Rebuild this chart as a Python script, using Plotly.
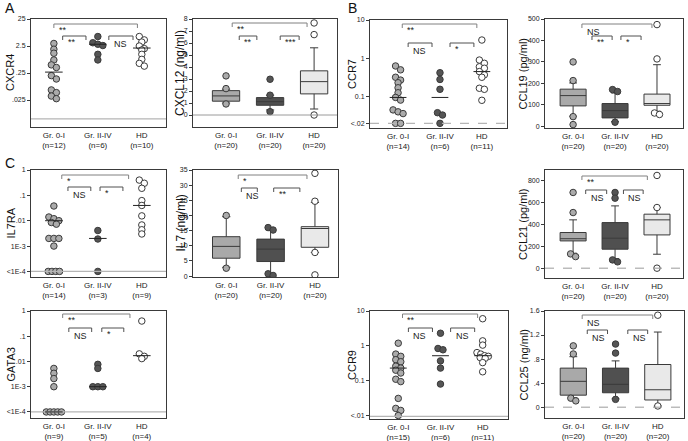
import numpy as np
import plotly.graph_objects as go

W, H = 688, 441

groups = ["Gr. 0-I", "Gr. II-IV", "HD"]

# ---------- dot plots (relative expression, log scale) ----------
cxcr4_n = [12, 6, 10]
cxcr4_g0 = [3.1, 1.9, 1.35, 0.76, 0.5, 0.4, 0.2, 0.15, 0.059, 0.047, 0.035, 0.028]
cxcr4_g2 = [5.6, 3.3, 2.9, 2.6, 1.23, 0.76]
cxcr4_hd = [5.6, 4.2, 3.5, 2.5, 2.0, 1.78, 1.23, 0.8, 0.57, 0.45]
cxcr4_med = [0.27, 2.9, 2.1]
cxcr4_ticks = [25, 2.5, 0.25, 0.025]
cxcr4_ticktext = ["25", "2.5", ".25", ".025"]

ccr7_n = [14, 6, 11]
ccr7_g0 = [0.63, 0.5, 0.32, 0.27, 0.23, 0.17, 0.126, 0.095, 0.081, 0.045, 0.04, 0.036, 0.02, 0.02]
ccr7_g2 = [0.42, 0.28, 0.155, 0.038, 0.033, 0.02]
ccr7_hd = [3.0, 0.9, 0.74, 0.6, 0.55, 0.45, 0.37, 0.32, 0.165, 0.155, 0.08]
ccr7_med = [0.095, 0.095, 0.45]
ccr7_ticks = [10, 1, 0.1, 0.02]
ccr7_ticktext = ["10", "1", "0.1", "<.02"]

il7ra_n = [14, 3, 9]
il7ra_g0 = [0.038, 0.014, 0.012, 0.01, 0.0085, 0.0073, 0.002, 0.002, 0.002, 0.001,
            1e-4, 1e-4, 1e-4, 1e-4]
il7ra_g2 = [0.0041, 0.0019, 1e-4]
il7ra_hd = [0.4, 0.3, 0.19, 0.062, 0.04, 0.0155, 0.0068, 0.0044, 0.003]
il7ra_med = [0.01, 0.002, 0.04]

gata3_n = [9, 5, 4]
gata3_g0 = [0.0053, 0.0034, 0.0021, 0.001, 1e-4, 1e-4, 1e-4, 1e-4, 1e-4]
gata3_g2 = [0.0077, 0.0053, 0.001, 0.001, 0.001]
gata3_hd = [0.4, 0.02, 0.016, 0.013]
gata3_med = [1e-4, 0.001, 0.017]

low_ticks = [1, 0.1, 0.01, 1e-3, 1e-4]
low_ticktext = ["1", ".1", ".01", "1E-3", "<1E-4"]

ccr9_n = [15, 6, 11]
ccr9_g0 = [1.19, 0.58, 0.5, 0.4, 0.35, 0.26, 0.23, 0.2, 0.166, 0.11, 0.094, 0.031, 0.016, 0.014, 0.01]
ccr9_g2 = [2.3, 0.84, 0.77, 0.37, 0.23, 0.08]
ccr9_hd = [6.0, 1.39, 1.05, 0.64, 0.58, 0.52, 0.5, 0.46, 0.44, 0.33, 0.18]
ccr9_med = [0.23, 0.52, 0.52]
ccr9_ticks = [10, 1, 0.1, 0.01]
ccr9_ticktext = ["10", "1", "0.1", "<.01"]

# ---------- box plots (lower whisker, q1, median, q3, upper whisker) ----------
box_n = [20, 20, 20]

cxcl12_stats = [[1.0, 1.15, 1.59, 2.03, 2.15], [0.42, 0.81, 1.11, 1.45, 1.65], [0.5, 1.76, 2.78, 3.68, 5.6]]
cxcl12_out = [[3.26, 2.2, 0.92], [2.98, 1.65, 0.28], [7.67, 6.7, 0.0]]

ccl19_stats = [[47, 95, 143, 173, 202], [22, 39, 73, 106, 155], [70, 98, 106, 150, 287]]
ccl19_out = [[300, 213, 45, 8], [171, 162, 19], [474, 314, 62, 55]]

il7_stats = [[2.9, 5.9, 9.8, 13.0, 19.6], [0.76, 4.8, 8.9, 12.2, 15.2], [7.8, 9.5, 15.7, 16.3, 24.3]]
il7_out = [[20.0, 2.6], [16.0, 15.2, 0.76, 0.2], [33.9, 24.7, 7.8, 0.4]]

ccl21_stats = [[137, 250, 270, 327, 443], [88, 174, 275, 418, 571], [128, 305, 443, 495, 556]]
ccl21_out = [[694, 510, 131, 106], [694, 642, 76, 58], [850, 556, 0]]

ccl25_stats = [[0.16, 0.2, 0.43, 0.65, 0.84], [0.14, 0.24, 0.38, 0.65, 0.77], [0.02, 0.12, 0.29, 0.71, 1.25]]
ccl25_out = [[1.02, 0.885, 0.15, 0.105], [1.05, 0.9, 0.13], [1.53, 0.02]]

# ---------- styling ----------
FONT = "Liberation Sans, Arial, sans-serif"
LINE = "#3a3a3a"
DOT_FILL = ["#ababab", "#555555", "#ffffff"]
BOX_FILL = ["#a9a9a9", "#505050", "#e9e9e9"]
COL_A = [-0.52, 2.55]
COL_B = [-0.75, 2.52]
COL_C = [-0.67, 2.6]
COL_D = [-0.67, 2.62]

fig = go.Figure()
shapes, annots = [], []


def setup_axes(i, box, xr, yr, n, yticks, yticktext):
    l, r, t, b = box
    s = "" if i == 1 else str(i)
    fig.update_layout(**{
        "xaxis" + s: dict(domain=[l / W, r / W], range=xr, anchor="y" + s,
                          tickvals=[0, 1, 2],
                          ticktext=[f"{g}<br>(n={k})" for g, k in zip(groups, n)],
                          showline=True, mirror=True, linecolor=LINE, linewidth=1,
                          ticks="", showgrid=False, zeroline=False, automargin=False,
                          tickfont=dict(size=8, color="#222")),
        "yaxis" + s: dict(domain=[1 - b / H, 1 - t / H], range=yr, anchor="x" + s,
                          tickvals=yticks, ticktext=yticktext,
                          showline=True, mirror=True, linecolor=LINE, linewidth=1,
                          ticks="outside", ticklen=3, tickcolor=LINE, automargin=False,
                          showgrid=False, zeroline=False,
                          tickfont=dict(size=7, color="#222")),
    })
    return "x" + s, "y" + s


def swarm(y, yr, hpx, xr, wpx, d=6.5, step=5):
    # side-by-side offsets for points that would sit on top of each other
    y = np.asarray(y, dtype=float)
    ypx = y / (yr[1] - yr[0]) * hpx
    order = np.argsort(-ypx)
    rows = []
    for idx in order:
        if rows and abs(ypx[rows[-1][0]] - ypx[idx]) < 0.6 * d:
            rows[-1].append(idx)
        else:
            rows.append([idx])
    off = np.zeros(len(y))
    for row in rows:
        k = len(row)
        sp = step if k < 4 else 3.8
        for j, idx in enumerate(row):
            off[idx] = (j - (k - 1) / 2) * sp
    return off / wpx * (xr[1] - xr[0])


def add_markers(xa, ya, gi, xs, ys):
    fig.add_trace(go.Scatter(x=xs, y=ys, mode="markers", xaxis=xa, yaxis=ya,
                             showlegend=False, hoverinfo="skip",
                             marker=dict(size=6.5, color=DOT_FILL[gi],
                                         line=dict(color=LINE, width=1))))


def add_brackets(xa, ya, box, brackets):
    l, r, t, b = box
    h = b - t
    for x0, x1, below, label in brackets:
        yy = 1 - below / h
        tick = 4 / h
        col = "#808080" if below < 10 else "#505050"
        kw = dict(type="line", xref=xa, yref=ya + " domain", line=dict(color=col, width=1))
        shapes.append(dict(kw, x0=x0, x1=x1, y0=yy, y1=yy))
        shapes.append(dict(kw, x0=x0, x1=x0, y0=yy, y1=yy - tick))
        shapes.append(dict(kw, x0=x1, x1=x1, y0=yy, y1=yy - tick))
        annots.append(dict(x=x0, y=yy, xref=xa, yref=ya + " domain", text=label,
                           showarrow=False, xanchor="left", yanchor="top",
                           xshift=3, yshift=1 if label != "NS" else -1,
                           font=dict(size=9, color="#222")))


def ytitle(box, xpx, text, size=11):
    l, r, t, b = box
    annots.append(dict(x=xpx / W, y=1 - (t + b) / 2 / H, xref="paper", yref="paper",
                       text=text, textangle=-90, showarrow=False,
                       xanchor="center", yanchor="middle",
                       font=dict(size=size, color="#111")))


def hline(xa, ya, yv, color="#b5b5b5", dash="solid", width=1.2):
    shapes.append(dict(type="line", xref=xa + " domain", yref=ya, x0=0, x1=1, y0=yv, y1=yv,
                       line=dict(color=color, dash=dash, width=width)))


def dot_panel(i, box, xr, yr, data, med, n, yticks, yticktext, floor, floor_dash,
              title, title_x, brackets):
    l, r, t, b = box
    xa, ya = setup_axes(i, box, xr, yr, n, list(np.log10(yticks)), yticktext)
    hline(xa, ya, floor, dash=floor_dash)
    for gi, vals in enumerate(data):
        y = np.log10(vals)
        dx = swarm(y, yr, b - t, xr, r - l)
        add_markers(xa, ya, gi, gi + dx, y)
        m = np.log10(med[gi])
        shapes.append(dict(type="line", xref=xa, yref=ya, x0=gi - 0.2, x1=gi + 0.2,
                           y0=m, y1=m, line=dict(color="#222", width=1)))
    add_brackets(xa, ya, box, brackets)
    ytitle(box, title_x, title)


def box_panel(i, box, xr, yr, stats, outs, yticks, yticktext, zero_dash,
              title, title_x, brackets, title_size=11):
    l, r, t, b = box
    xa, ya = setup_axes(i, box, xr, yr, box_n, yticks, yticktext)
    if zero_dash is not None:
        hline(xa, ya, 0, color="#9a9a9a", dash=zero_dash, width=1)
    for gi, st in enumerate(stats):
        fig.add_trace(go.Box(x=[gi], lowerfence=[st[0]], q1=[st[1]], median=[st[2]],
                             q3=[st[3]], upperfence=[st[4]], xaxis=xa, yaxis=ya,
                             width=0.62, whiskerwidth=0.3, boxpoints=False,
                             fillcolor=BOX_FILL[gi], line=dict(color=LINE, width=1),
                             showlegend=False, hoverinfo="skip"))
        dx = swarm(outs[gi], yr, b - t, xr, r - l)
        add_markers(xa, ya, gi, gi + dx, outs[gi])
    add_brackets(xa, ya, box, brackets)
    ytitle(box, title_x, title, title_size)


dot_panel(1, (31, 166, 19, 127), COL_A, [np.log10(0.0025), np.log10(25)],
          [cxcr4_g0, cxcr4_g2, cxcr4_hd], cxcr4_med, cxcr4_n, cxcr4_ticks, cxcr4_ticktext,
          -2.3, "solid", "CXCR4", 10,
          [(0, 1.9, 5, "**"), (0.2, 0.73, 17, "**"), (1.25, 1.8, 17, "NS")])

box_panel(2, (193, 337, 19, 127), COL_B, [-1, 8], cxcl12_stats, cxcl12_out,
          list(range(0, 9)), [str(v) for v in range(0, 9)], "solid",
          "CXCL12 (ng/ml)", 180,
          [(0.14, 1.84, 4, "**"), (0.3, 0.7, 17, "**"), (1.23, 1.66, 17, "***")], 12)

dot_panel(3, (370, 507, 20, 128), COL_C, [-1.82, 1.0],
          [ccr7_g0, ccr7_g2, ccr7_hd], ccr7_med, ccr7_n, ccr7_ticks, ccr7_ticktext,
          np.log10(0.02), "dash", "CCR7", 352,
          [(0.1, 1.88, 4, "**"), (0.24, 0.81, 23, "NS"), (1.24, 1.81, 23, "*")])

box_panel(4, (545, 683, 19, 128), COL_D, [-8, 500], ccl19_stats, ccl19_out,
          [0, 100, 200, 300, 400, 500], ["0", "100", "200", "300", "400", "500"], None,
          "CCL19 (pg/ml)", 523,
          [(0.21, 1.88, 5, "NS"), (0.45, 0.93, 17, "**"), (1.14, 1.62, 17, "*")])

dot_panel(5, (31, 166, 170, 277), COL_A, [-4.22, 0],
          [il7ra_g0, il7ra_g2, il7ra_hd], il7ra_med, il7ra_n, low_ticks, low_ticktext,
          -4, "solid", "IL7RA", 10,
          [(0.18, 1.7, 5, "*"), (0.32, 0.84, 17, "NS"), (1.05, 1.57, 17, "*")])

box_panel(6, (193, 338, 170, 277), COL_B, [-0.3, 35], il7_stats, il7_out,
          list(range(0, 36, 5)), [str(v) for v in range(0, 36, 5)], None,
          "IL7 (ng/ml)", 180,
          [(0.27, 1.82, 5, "*"), (0.34, 0.7, 18, "NS"), (1.07, 1.66, 18, "**")], 12)

box_panel(7, (545, 683, 170, 278), COL_D, [-90, 900], ccl21_stats, ccl21_out,
          [0, 200, 400, 600, 800], ["0", "200", "400", "600", "800"], "dash",
          "CCL21 (pg/ml)", 523,
          [(0.21, 1.77, 6, "**"), (0.3, 0.8, 20, "NS"), (1.2, 1.67, 20, "NS")])

dot_panel(8, (31, 166, 311, 418), COL_A, [-4.24, 0],
          [gata3_g0, gata3_g2, gata3_hd], gata3_med, gata3_n, low_ticks, low_ticktext,
          -4, "solid", "GATA3", 10,
          [(0.2, 1.73, 3, "**"), (0.34, 0.86, 17, "NS"), (1.09, 1.59, 17, "*")])

dot_panel(9, (370, 508, 311, 419), COL_C, [-2.1, 1.0],
          [ccr9_g0, ccr9_g2, ccr9_hd], ccr9_med, ccr9_n, ccr9_ticks, ccr9_ticktext,
          np.log10(0.0095), "solid", "CCR9", 352,
          [(0.1, 1.88, 3, "**"), (0.24, 0.81, 17, "NS"), (1.24, 1.81, 17, "NS")])

box_panel(10, (545, 684, 311, 418), COL_D, [-0.18, 1.6], ccl25_stats, ccl25_out,
          [0, 0.4, 0.8, 1.2, 1.6], ["0", ".4", ".8", "1.2", "1.6"], "dash",
          "CCL25 (ng/ml)", 523,
          [(0.21, 1.88, 4, "NS"), (0.33, 0.81, 19, "NS"), (1.29, 1.76, 19, "NS")])

# panel letters
for letter, xpx, ypx in [("A", 10, 8), ("B", 352, 8), ("C", 10, 163)]:
    annots.append(dict(x=xpx / W, y=1 - ypx / H, xref="paper", yref="paper", text=letter,
                       showarrow=False, xanchor="center", yanchor="middle",
                       font=dict(size=14, color="#111")))

fig.update_layout(width=W, height=H, margin=dict(l=0, r=0, t=0, b=0, autoexpand=False),
                  paper_bgcolor="white", plot_bgcolor="white",
                  font=dict(family=FONT, color="#222"),
                  shapes=shapes, annotations=annots, showlegend=False)

# drop the page's default body margin so the figure starts at the window corner
fig.write_html("out.html", config={"displayModeBar": False},
               post_script="document.body.style.margin='0';document.body.style.overflow='hidden';")
